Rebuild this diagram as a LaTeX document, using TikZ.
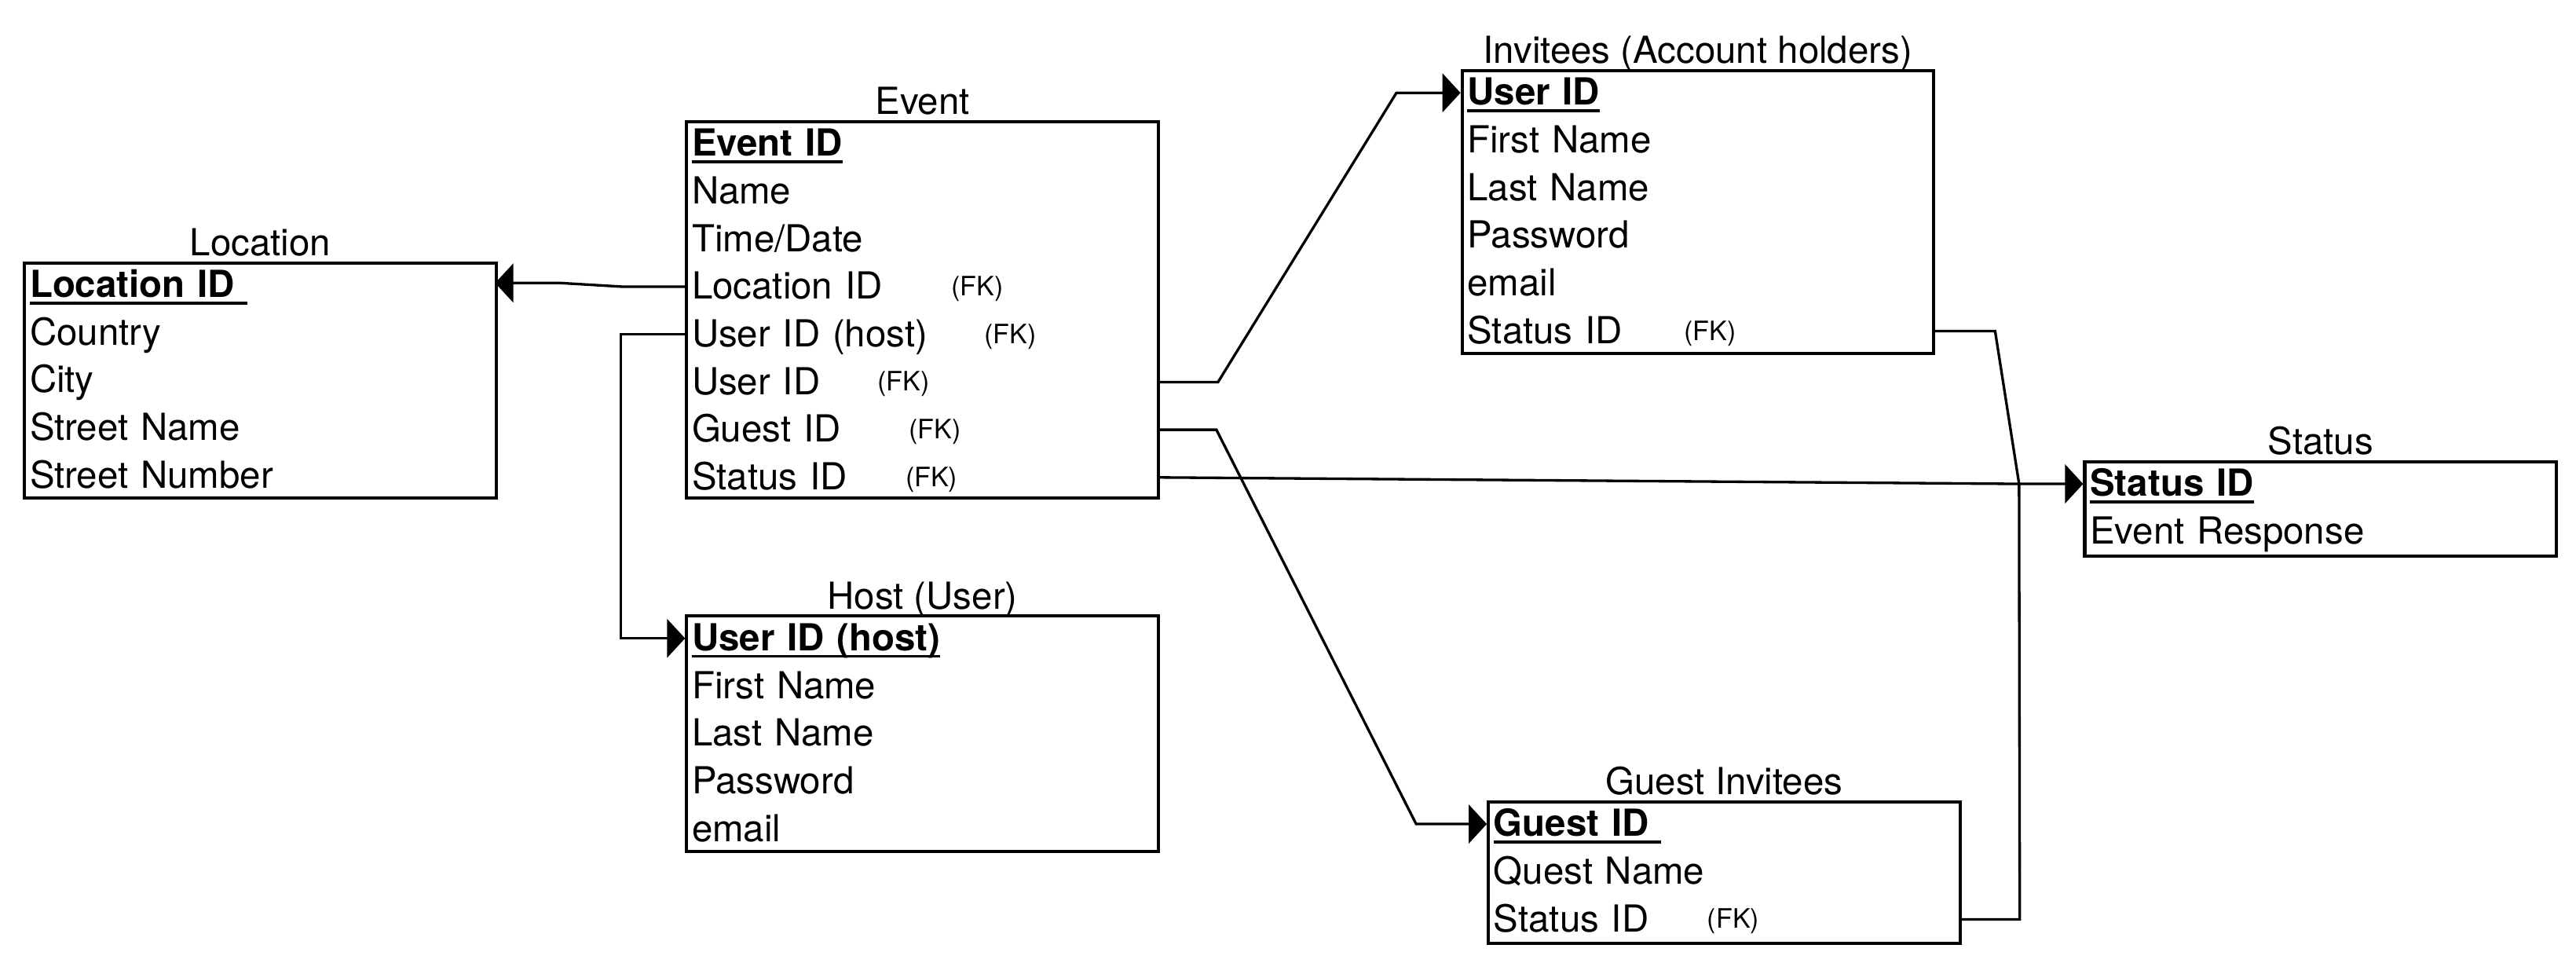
\documentclass[tikz,border=0pt]{standalone}
\usepackage{fontspec}
\setmainfont{TeX Gyre Heros}
\usetikzlibrary{arrows.meta,calc}
\newcommand{\pk}[1]{\setbox0=\hbox{\bfseries #1}\rlap{\usebox0}\rule[-0.17cm]{\wd0}{0.065cm}}
\tikzset{
  ebox/.style={draw, line width=2.2pt, rectangle, minimum width=11.48cm, inner sep=0pt, anchor=north west},
  row/.style={rectangle, inner xsep=0.16cm, inner ysep=0pt, minimum height=1.146cm, text width=11.16cm, align=left, text height=0.6cm, text depth=0pt, font=\fontsize{25.8}{31}\selectfont, anchor=north west},
  title/.style={font=\fontsize{25.8}{31}\selectfont, anchor=base, inner sep=0pt},
  fk/.style={font=\fontsize{18.5}{22}\selectfont, inner sep=0pt, text height=0.44cm, text depth=0pt},
  conn/.style={line width=1.8pt},
  arr/.style={conn, -{Triangle[length=0.44cm,width=0.94cm]}}
}
\begin{document}
\begin{tikzpicture}[x=0.04cm, y=-0.04cm]
\useasboundingbox (0,0) rectangle (1568,586);
% Location
\node[ebox, minimum height=5.73cm] (loc) at (14,159) {};
\node[title] (loct) at ([yshift=0.14cm]loc.north) {Location};
\node[row] (loc1) at (loc.north west) {\pk{Location ID\ }};
\node[row] (loc2) at (loc1.south west) {Country};
\node[row] (loc3) at (loc2.south west) {City};
\node[row] (loc4) at (loc3.south west) {Street Name};
\node[row] (loc5) at (loc4.south west) {Street Number};
% Event
\node[ebox, minimum height=9.168cm] (ev) at (417,73) {};
\node[title] (evt) at ([yshift=0.14cm]ev.north) {Event};
\node[row] (ev1) at (ev.north west) {\pk{Event ID}};
\node[row] (ev2) at (ev1.south west) {Name};
\node[row] (ev3) at (ev2.south west) {Time/Date};
\node[row] (ev4) at (ev3.south west) {Location ID};
\node[row] (ev5) at (ev4.south west) {User ID (host)};
\node[row] (ev6) at (ev5.south west) {User ID};
\node[row] (ev7) at (ev6.south west) {Guest ID};
\node[row] (ev8) at (ev7.south west) {Status ID};
\node[fk] (evfk4) at ([xshift=7.12cm]ev4.west) {(FK)};
\node[fk] (evfk5) at ([xshift=7.92cm]ev5.west) {(FK)};
\node[fk] (evfk6) at ([xshift=5.32cm]ev6.west) {(FK)};
\node[fk] (evfk7) at ([xshift=6.08cm]ev7.west) {(FK)};
\node[fk] (evfk8) at ([xshift=6.00cm]ev8.west) {(FK)};
% Host
\node[ebox, minimum height=5.73cm] (host) at (417,374) {};
\node[title] (hostt) at ([yshift=0.14cm]host.north) {Host (User)};
\node[row] (host1) at (host.north west) {\pk{User ID (host)}};
\node[row] (host2) at (host1.south west) {First Name};
\node[row] (host3) at (host2.south west) {Last Name};
\node[row] (host4) at (host3.south west) {Password};
\node[row] (host5) at (host4.south west) {email};
% Invitees
\node[ebox, minimum height=6.876cm] (inv) at (889,42) {};
\node[title] (invt) at ([yshift=0.14cm]inv.north) {Invitees (Account holders)};
\node[row] (inv1) at (inv.north west) {\pk{User ID}};
\node[row] (inv2) at (inv1.south west) {First Name};
\node[row] (inv3) at (inv2.south west) {Last Name};
\node[row] (inv4) at (inv3.south west) {Password};
\node[row] (inv5) at (inv4.south west) {email};
\node[row] (inv6) at (inv5.south west) {Status ID};
\node[fk] (invfk6) at ([xshift=6.08cm]inv6.west) {(FK)};
% Status
\node[ebox, minimum height=2.292cm] (st) at (1268,280) {};
\node[title] (stt) at ([yshift=0.14cm]st.north) {Status};
\node[row] (st1) at (st.north west) {\pk{Status ID}};
\node[row] (st2) at (st1.south west) {Event Response};
% Guest Invitees
\node[ebox, minimum height=3.438cm] (gst) at (905,487) {};
\node[title] (gstt) at ([yshift=0.14cm]gst.north) {Guest Invitees};
\node[row] (gst1) at (gst.north west) {\pk{Guest ID\ }};
\node[row] (gst2) at (gst1.south west) {Quest Name};
\node[row] (gst3) at (gst2.south west) {Status ID};
\node[fk] (gstfk3) at ([xshift=6.0cm]gst3.west) {(FK)};
% Connectors
\draw[arr] (ev4.west) -- ++(-1.5cm,0) -- ($(loc1.east)+(1.6cm,0.05cm)$) -- ([yshift=0.05cm]loc1.east);
\draw[arr] (ev5.west) -- ++(-1.56cm,0) |- (host1.west);
\draw[arr] (ev6.east) -- ++(1.48cm,0) -- ($(inv1.west)+(-1.56cm,0)$) -- (inv1.west);
\draw[arr] (ev7.east) -- ++(1.44cm,0) -- ($(gst1.west)+(-1.72cm,0)$) -- (gst1.west);
\draw[arr] (ev8.east) -- ($(st1.west)+(-1.56cm,0)$) -- (st1.west);
\draw[conn] (inv6.east) -- ++(1.52cm,0) -- ($(st1.west)+(-1.56cm,0)$) -- ($(gst3.east)+(1.48cm,0)$) -- (gst3.east);
\end{tikzpicture}
\end{document}
